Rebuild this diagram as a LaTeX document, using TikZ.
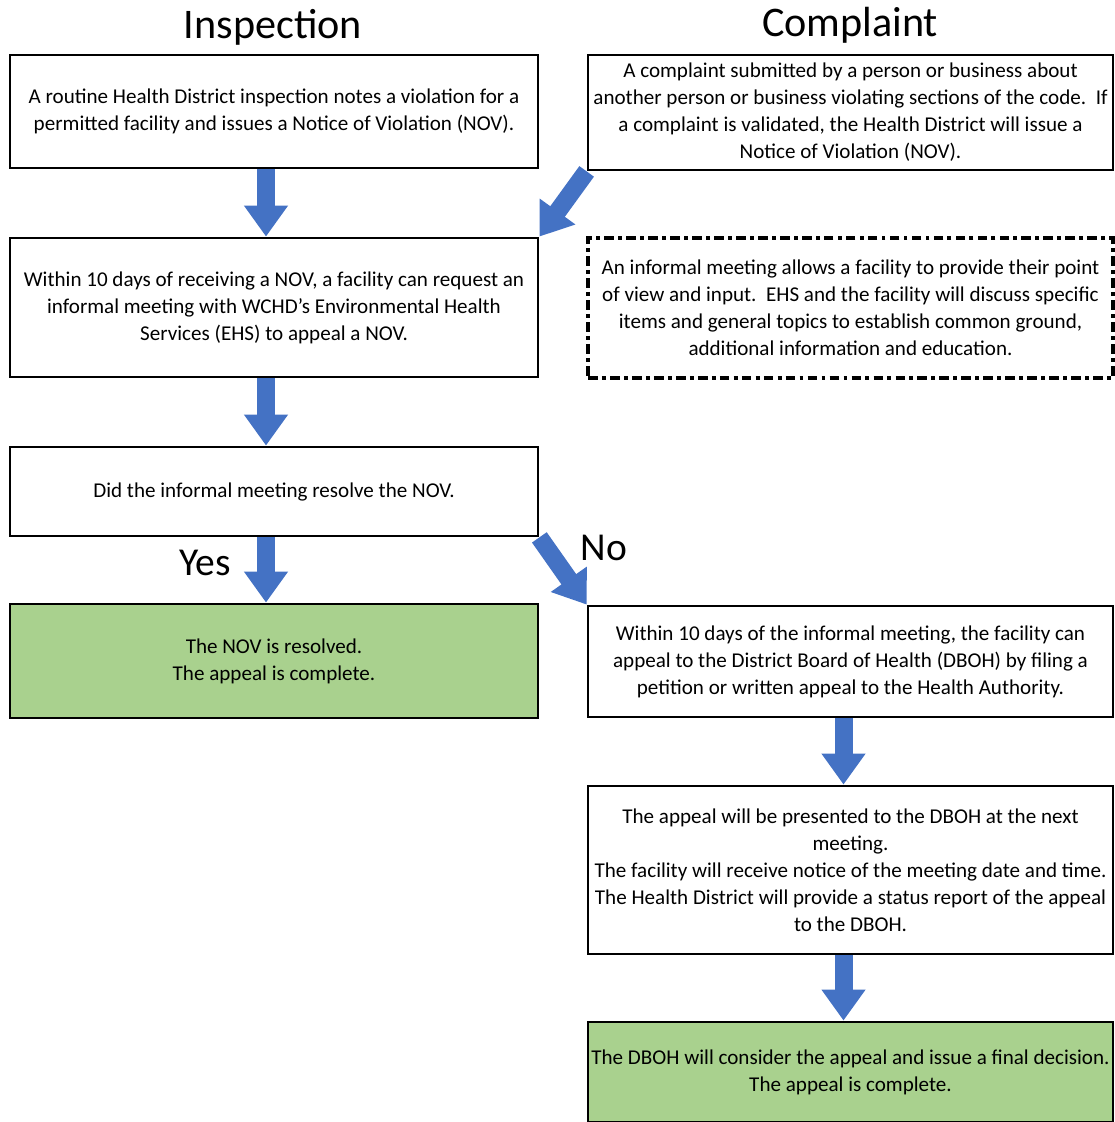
\documentclass[tikz,border=0pt]{standalone}
\usepackage{fontspec}
\setmainfont{Carlito}
\usetikzlibrary{arrows.meta}
\definecolor{arrowblue}{HTML}{4472C4}
\definecolor{donegreen}{HTML}{A9D18E}
\tikzset{
  box/.style={draw, line width=1.6pt, align=center, inner sep=0pt,
    font=\fontsize{12}{15.4}\selectfont},
  leftbox/.style={box, minimum width=10.56cm},
  rightbox/.style={box, minimum width=10.5cm},
  infobox/.style={rightbox, line width=2pt,
    dash pattern=on 5.5pt off 2.4pt on 2.2pt off 2.4pt},
  donebox/.style={fill=donegreen},
  flow/.style={arrowblue, line width=0.36cm, -{Triangle[width=0.84cm,length=0.62cm]}},
  heading/.style={font=\fontsize{24}{28}\selectfont},
  answer/.style={font=\fontsize{22.5}{26}\selectfont}
}

\begin{document}
\begin{tikzpicture}[x=0.02cm,y=-0.02cm]
\useasboundingbox (0,0) rectangle (1115,1122);
% Column headings
\node[heading] (insphead) at (273,27) {Inspection};
\node[heading] (comphead) at (850,25) {Complaint};
% Left column
\node[leftbox, minimum height=2.26cm] (inspect) at (274,111.5)
  {A routine Health District inspection notes a violation for a\\
   permitted facility and issues a Notice of Violation (NOV).};
\node[leftbox, minimum height=2.78cm] (request) at (274,307.5)
  {Within 10 days of receiving a NOV, a facility can request an\\
   informal meeting with WCHD's Environmental Health\\
   Services (EHS) to appeal a NOV.};
\node[leftbox, minimum height=1.78cm] (resolve) at (274,491.5)
  {Did the informal meeting resolve the NOV.};
\node[leftbox, donebox, minimum height=2.28cm] (resolved) at (274,661)
  {The NOV is resolved.\\ The appeal is complete.};
% Right column
\node[rightbox, minimum height=2.3cm] (complaint) at (850.5,112.5)
  {A complaint submitted by a person or business about\\
   another person or business violating sections of the code.\ \ If\\
   a complaint is validated, the Health District will issue a\\
   Notice of Violation (NOV).};
\node[infobox, minimum height=2.8cm] (informal) at (850.5,308)
  {An informal meeting allows a facility to provide their point\\
   of view and input.\ \ EHS and the facility will discuss specific\\
   items and general topics to establish common ground,\\
   additional information and education.};
\node[rightbox, minimum height=2.22cm] (appeal) at (850.5,661.5)
  {Within 10 days of the informal meeting, the facility can\\
   appeal to the District Board of Health (DBOH) by filing a\\
   petition or written appeal to the Health Authority.};
\node[rightbox, minimum height=3.36cm] (present) at (850.5,870)
  {The appeal will be presented to the DBOH at the next\\
   meeting.\\
   The facility will receive notice of the meeting date and time.\\
   The Health District will provide a status report of the appeal\\
   to the DBOH.};
\node[rightbox, donebox, minimum height=2cm] (decision) at (850.5,1072)
  {The DBOH will consider the appeal and issue a final decision.\\
   The appeal is complete.};
% Block arrows
\draw[flow] ([xshift=-0.16cm]inspect.south) -- ([xshift=-0.16cm]request.north);
\draw[flow] (complaint.south west) -- (request.north east);
\draw[flow] ([xshift=-0.16cm]request.south) -- ([xshift=-0.16cm]resolve.north);
\draw[flow] ([xshift=-0.16cm]resolve.south) -- ([xshift=-0.16cm]resolved.north);
\draw[flow] (resolve.south east) -- (appeal.north west);
\draw[flow] ([xshift=-0.14cm]appeal.south) -- ([xshift=-0.14cm]present.north);
\draw[flow] ([xshift=-0.14cm]present.south) -- ([xshift=-0.14cm]decision.north);
% Answers
\node[answer] (yes) at (205,563) {Yes};
\node[answer] (no) at (604,548) {No};
\end{tikzpicture}
\end{document}
